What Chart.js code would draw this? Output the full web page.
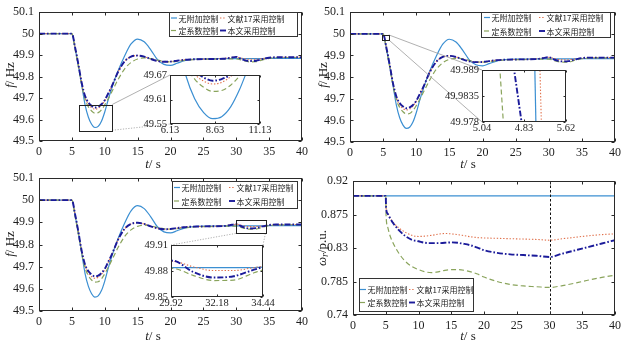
<!DOCTYPE html>
<html>
<head>
<meta charset="utf-8">
<script src="https://cdn.jsdelivr.net/npm/chart.js@4.4.1/dist/chart.umd.min.js"></script>
<style>
  html, body { margin: 0; padding: 0; background: #fff; }
  #wrap { position: relative; width: 626px; height: 345px; overflow: hidden; }
  #wrap canvas { position: absolute; left: 0; top: 0; }
</style>
</head>
<body>
<div id="wrap"></div>
<script>
// ── DATA ────────────────────────────────────────────────────────────────────
const seriesNames = ['无附加控制', '文献17采用控制', '定系数控制', '本文采用控制'];

// frequency response, same curves in the three f/Hz panels
const tFreq  = [0, 5, 5.5, 6, 6.5, 7, 7.5, 8, 8.5, 9, 9.5, 10, 10.5, 11, 11.5, 12, 13, 14, 15, 16, 17, 18, 19, 20, 21, 22, 23, 24, 26, 28, 29, 30, 31, 32, 33, 34, 35, 36, 38, 40];
const fNone  = [50, 50, 49.93, 49.85, 49.76, 49.67, 49.612, 49.578, 49.563, 49.568, 49.592, 49.635, 49.69, 49.74, 49.785, 49.825, 49.895, 49.952, 49.975, 49.962, 49.925, 49.88, 49.857, 49.852, 49.862, 49.873, 49.879, 49.882, 49.883, 49.884, 49.884, 49.884, 49.884, 49.884, 49.884, 49.884, 49.885, 49.885, 49.885, 49.885];
const fRef17 = [50, 50, 49.935, 49.855, 49.77, 49.705, 49.672, 49.655, 49.648, 49.652, 49.666, 49.688, 49.718, 49.75, 49.785, 49.82, 49.87, 49.893, 49.898, 49.893, 49.882, 49.873, 49.869, 49.87, 49.874, 49.878, 49.88, 49.881, 49.882, 49.884, 49.888, 49.891, 49.885, 49.8805, 49.8805, 49.884, 49.887, 49.889, 49.89, 49.89];
const fConst = [50, 50, 49.925, 49.845, 49.76, 49.695, 49.66, 49.64, 49.63, 49.632, 49.645, 49.668, 49.695, 49.725, 49.755, 49.785, 49.835, 49.866, 49.882, 49.887, 49.884, 49.877, 49.871, 49.869, 49.871, 49.875, 49.878, 49.88, 49.881, 49.882, 49.883, 49.883, 49.875, 49.869, 49.8695, 49.878, 49.885, 49.888, 49.889, 49.889];
const fOurs  = [50, 50, 49.935, 49.855, 49.77, 49.71, 49.68, 49.664, 49.656, 49.66, 49.671, 49.69, 49.72, 49.75, 49.785, 49.82, 49.87, 49.893, 49.898, 49.893, 49.882, 49.873, 49.869, 49.87, 49.874, 49.878, 49.88, 49.881, 49.882, 49.883, 49.887, 49.892, 49.879, 49.8725, 49.874, 49.8815, 49.888, 49.89, 49.89, 49.89];

// close-up of the first drop (5.04–5.62 s)
const zoomF      = [49.995, 49.972];
const zoomTNone  = [5.401, 5.416];
const zoomTRef17 = [5.435, 5.455];
const zoomTConst = [5.151, 5.2];
const zoomTOurs  = [5.234, 5.341];

// rotor speed
const tOmega = [0, 5, 5.05, 5.3, 5.6, 6, 7, 8, 9, 10, 11, 12, 13, 14, 15, 16, 17, 18, 19, 20, 22, 24, 26, 28, 30, 32, 34, 36, 38, 40];
const wNone  = [0.9, 0.9, 0.9, 0.9, 0.9, 0.9, 0.9, 0.9, 0.9, 0.9, 0.9, 0.9, 0.9, 0.9, 0.9, 0.9, 0.9, 0.9, 0.9, 0.9, 0.9, 0.9, 0.9, 0.9, 0.9, 0.9, 0.9, 0.9, 0.9, 0.9];
const wRef17 = [0.9, 0.9, 0.884, 0.876, 0.871, 0.866, 0.857, 0.851, 0.847, 0.8455, 0.846, 0.847, 0.8485, 0.8495, 0.849, 0.848, 0.8465, 0.845, 0.844, 0.8435, 0.843, 0.8425, 0.842, 0.8415, 0.8405, 0.8425, 0.8445, 0.8465, 0.848, 0.849];
const wConst = [0.9, 0.9, 0.874, 0.858, 0.848, 0.839, 0.823, 0.812, 0.805, 0.801, 0.798, 0.797, 0.798, 0.8, 0.801, 0.801, 0.8, 0.798, 0.795, 0.791, 0.785, 0.781, 0.779, 0.778, 0.777, 0.7795, 0.783, 0.787, 0.7905, 0.7935];
const wOurs  = [0.9, 0.9, 0.884, 0.876, 0.871, 0.865, 0.854, 0.846, 0.841, 0.839, 0.837, 0.8365, 0.8365, 0.837, 0.8375, 0.837, 0.8355, 0.8335, 0.8305, 0.827, 0.8235, 0.8215, 0.8205, 0.8195, 0.818, 0.8225, 0.827, 0.8315, 0.836, 0.8405];
const omegaMark = 30;

// ticks
const timeTicks  = [0, 5, 10, 15, 20, 25, 30, 35, 40];
const timeLabels = ['0', '5', '10', '15', '20', '25', '30', '35', '40'];
const freqTicks  = [49.5, 49.6, 49.7, 49.8, 49.9, 50, 50.1];
const freqLabels = ['49.5', '49.6', '49.7', '49.8', '49.9', '50', '50.1'];
const omegaTicks  = [0.74, 0.785, 0.83, 0.875, 0.92];
const omegaLabels = ['0.74', '0.785', '0.83', '0.875', '0.92'];
const in1X = [6.13, 8.63, 11.13],   in1XLabels = ['6.13', '8.63', '11.13'];
const in1Y = [49.55, 49.61, 49.67], in1YLabels = ['49.55', '49.61', '49.67'];
const in2X = [5.04, 5.33, 5.62],    in2XLabels = ['5.04', '4.83', '5.62'];
const in2Y = [49.978, 49.9835, 49.989], in2YLabels = ['49.978', '49.9835', '49.989'];
const in3X = [29.92, 32.18, 34.44], in3XLabels = ['29.92', '32.18', '34.44'];
const in3Y = [49.85, 49.88, 49.91], in3YLabels = ['49.85', '49.88', '49.91'];

// ── STYLE / LAYOUT ──────────────────────────────────────────────────────────
const W = 626, H = 345;
const styles = [
  { color: '#3b8fd2', width: 1.2, dash: [], order: 3 },
  { color: '#e0714c', width: 1.1, dash: [1.4, 1.8], order: 2 },
  { color: '#8aa45c', width: 1.2, dash: [5, 3], order: 1 },
  { color: '#1b1b9a', width: 1.9, dash: [6, 2, 1.6, 2], order: 0 }
];
const serif = '"Liberation Serif", "DejaVu Serif", serif';

const area1 = { l: 39, t: 9, r: 302, b: 141 };
const area2 = { l: 350, t: 9, r: 615, b: 142 };
const area3 = { l: 39, t: 178, r: 302, b: 311 };
const area4 = { l: 353, t: 181, r: 615, b: 315 };
const inset1 = { l: 170, t: 75, r: 260, b: 124 };
const inset2 = { l: 482, t: 70, r: 566, b: 122 };
const inset3 = { l: 171, t: 245, r: 263, b: 297 };

const figCfg = {};

function drawRuns(ctx, runs, cx, cy, rotate) {
  const fontOf = r => `${r.it ? 'italic ' : ''}${r.sz || 13}px ${serif}`;
  ctx.save();
  ctx.translate(cx, cy);
  if (rotate) ctx.rotate(-Math.PI / 2);
  ctx.textBaseline = 'alphabetic';
  ctx.textAlign = 'left';
  ctx.fillStyle = '#222';
  let w = 0;
  runs.forEach(r => { ctx.font = fontOf(r); w += ctx.measureText(r.t).width; });
  let x = -w / 2;
  runs.forEach(r => {
    ctx.font = fontOf(r);
    ctx.fillText(r.t, x, 4.5 + (r.dy || 0));
    x += ctx.measureText(r.t).width;
  });
  ctx.restore();
}

function drawLegend(ctx, lg) {
  ctx.save();
  ctx.fillStyle = '#fff';
  ctx.fillRect(lg.x, lg.y, lg.w, lg.h);
  ctx.strokeStyle = '#333';
  ctx.lineWidth = 1;
  ctx.strokeRect(lg.x + 0.5, lg.y + 0.5, lg.w, lg.h);
  ctx.font = '8px "Noto Sans CJK SC"';
  ctx.textBaseline = 'middle';
  ctx.textAlign = 'left';
  seriesNames.forEach((name, i) => {
    const x = lg.cols[i % 2], y = lg.rows[Math.floor(i / 2)], s = styles[i];
    ctx.strokeStyle = s.color;
    ctx.lineWidth = s.width;
    ctx.setLineDash(s.dash);
    ctx.beginPath(); ctx.moveTo(x, y); ctx.lineTo(x + 6, y); ctx.stroke();
    ctx.setLineDash([]);
    ctx.fillStyle = '#222';
    ctx.fillText(name, x + 7.5, y + 0.5);
  });
  ctx.restore();
}

const figPlugin = {
  id: 'fig',
  beforeDraw(chart) {
    const c = figCfg[chart.canvas.id];
    if (!c.inset) return;
    const a = chart.chartArea, ctx = chart.ctx;
    ctx.save();
    ctx.fillStyle = '#fff';
    ctx.fillRect(a.left, a.top, a.right - a.left, a.bottom - a.top);
    ctx.restore();
  },
  afterDraw(chart) {
    const c = figCfg[chart.canvas.id];
    const ctx = chart.ctx, a = chart.chartArea, xs = chart.scales.x, ys = chart.scales.y;
    ctx.save();

    if (c.vline != null) {
      const px = Math.round(xs.getPixelForValue(c.vline)) + 0.5;
      ctx.strokeStyle = '#111'; ctx.lineWidth = 1; ctx.setLineDash([2.5, 2]);
      ctx.beginPath(); ctx.moveTo(px, a.top); ctx.lineTo(px, a.bottom); ctx.stroke();
      ctx.setLineDash([]);
    }

    // box + inward ticks
    const L = Math.round(a.left) + 0.5, R = Math.round(a.right) - 0.5;
    const T = Math.round(a.top) + 0.5, B = Math.round(a.bottom) - 0.5;
    ctx.strokeStyle = '#2a2a2a'; ctx.lineWidth = 1;
    ctx.strokeRect(L, T, R - L, B - T);
    const tl = c.tickLen;
    ctx.beginPath();
    xs.ticks.forEach(t => {
      const px = Math.round(xs.getPixelForValue(t.value)) + 0.5;
      ctx.moveTo(px, B); ctx.lineTo(px, B - tl);
      ctx.moveTo(px, T); ctx.lineTo(px, T + tl);
    });
    ys.ticks.forEach(t => {
      const py = Math.round(ys.getPixelForValue(t.value)) + 0.5;
      ctx.moveTo(L, py); ctx.lineTo(L + tl, py);
      ctx.moveTo(R, py); ctx.lineTo(R - tl, py);
    });
    ctx.stroke();

    // zoom box with leader lines to its inset
    if (c.zoom) {
      const z = c.zoom;
      let x0 = xs.getPixelForValue(z.x0), x1 = xs.getPixelForValue(z.x1);
      let y0 = ys.getPixelForValue(z.y1), y1 = ys.getPixelForValue(z.y0);
      if (x1 - x0 < z.minW) { const m = (x0 + x1) / 2; x0 = m - z.minW / 2; x1 = m + z.minW / 2; }
      if (y1 - y0 < z.minH) { const m = (y0 + y1) / 2; y0 = m - z.minH / 2; y1 = m + z.minH / 2; }
      const rc = { tl: [x0, y0], tr: [x1, y0], bl: [x0, y1], br: [x1, y1] };
      const ta = z.target;
      const tc = { tl: [ta.l, ta.t], tr: [ta.r, ta.t], bl: [ta.l, ta.b], br: [ta.r, ta.b] };
      ctx.strokeStyle = '#9c9c9c'; ctx.lineWidth = 0.8;
      z.links.forEach(([from, to, dotted]) => {
        ctx.setLineDash(dotted ? [1.2, 1.5] : []);
        ctx.beginPath(); ctx.moveTo(rc[from][0], rc[from][1]); ctx.lineTo(tc[to][0], tc[to][1]); ctx.stroke();
      });
      ctx.setLineDash([]);
      ctx.strokeStyle = '#222'; ctx.lineWidth = 1;
      ctx.strokeRect(Math.round(x0) + 0.5, Math.round(y0) + 0.5, Math.round(x1 - x0), Math.round(y1 - y0));
    }

    if (c.legend) drawLegend(ctx, c.legend);
    if (c.yTitle) drawRuns(ctx, c.yTitle.runs, c.yTitle.x, c.yTitle.y, true);
    if (c.xTitle) drawRuns(ctx, c.xTitle.runs, c.xTitle.x, c.xTitle.y, false);
    ctx.restore();
  }
};

function linAxis(min, max, ticks, labels, fontSize, pad, fit) {
  return {
    type: 'linear', min, max,
    grid: { display: false, drawTicks: false },
    border: { display: false },
    afterBuildTicks: s => { s.ticks = ticks.map(v => ({ value: v })); },
    afterFit: fit,
    ticks: {
      autoSkip: false, maxRotation: 0, padding: pad, color: '#1e1e1e',
      font: { family: serif, size: fontSize },
      callback: (v, i) => labels[i]
    }
  };
}

function seriesSets(t, series) {
  return series.map((vals, i) => ({
    data: vals.map((v, k) => ({ x: t[k], y: v })),
    borderColor: styles[i].color,
    borderWidth: styles[i].width,
    borderDash: styles[i].dash,
    cubicInterpolationMode: 'monotone',
    pointRadius: 0,
    fill: false,
    order: styles[i].order
  }));
}

function zoomSets(tLists, fVals) {
  return tLists.map((ts, i) => ({
    data: ts.map((x, k) => ({ x, y: fVals[k] })),
    borderColor: styles[i].color,
    borderWidth: styles[i].width,
    borderDash: styles[i].dash,
    tension: 0,
    pointRadius: 0,
    fill: false,
    order: styles[i].order
  }));
}

const wrap = document.getElementById('wrap');

function makeChart(id, area, xAx, yAx, datasets, cfg) {
  const cv = document.createElement('canvas');
  cv.id = id; cv.width = W; cv.height = H;
  cv.style.width = W + 'px'; cv.style.height = H + 'px';
  wrap.appendChild(cv);
  figCfg[id] = cfg;
  const fs = cfg.inset ? 10.5 : 12;
  const xPad = cfg.inset ? 0 : 4, yPad = cfg.inset ? 3 : 5;
  return new Chart(cv.getContext('2d'), {
    type: 'line',
    data: { datasets },
    options: {
      responsive: false, animation: false, devicePixelRatio: 1,
      layout: { padding: { top: area.t, right: W - area.r, left: 0, bottom: 0 } },
      plugins: { legend: { display: false }, tooltip: { enabled: false } },
      elements: { point: { radius: 0 } },
      scales: {
        x: linAxis(xAx[0], xAx[1], xAx[2], xAx[3], fs, xPad, s => { s.height = H - area.b; }),
        y: linAxis(yAx[0], yAx[1], yAx[2], yAx[3], fs, yPad, s => { s.width = area.l; })
      }
    },
    plugins: [figPlugin]
  });
}

const freqSeries = [fNone, fRef17, fConst, fOurs];
const fTitle = [{ t: 'f', it: true }, { t: '/ Hz' }];
const tTitle = [{ t: 't', it: true }, { t: '/ s' }];
const timeAx = [0, 40, timeTicks, timeLabels];
const freqAx = [49.5, 50.1, freqTicks, freqLabels];

// ── PANEL 1 : trough close-up ───────────────────────────────────────────────
makeChart('p1', area1, timeAx, freqAx, seriesSets(tFreq, freqSeries), {
  tickLen: 3,
  legend: { x: 169, y: 12, w: 128, h: 24, cols: [171, 220], rows: [18, 30.5] },
  yTitle: { runs: fTitle, x: 9, y: 75 },
  xTitle: { runs: tTitle, x: 153, y: 163 },
  zoom: { x0: in1X[0], x1: in1X[2], y0: in1Y[0], y1: in1Y[2], minW: 4, minH: 4, target: inset1,
          links: [['tr', 'tl', false], ['br', 'bl', true]] }
});
makeChart('p1i', inset1, [in1X[0], in1X[2], in1X, in1XLabels], [in1Y[0], in1Y[2], in1Y, in1YLabels],
  seriesSets(tFreq, freqSeries), { inset: true, tickLen: 2 });

// ── PANEL 2 : first-drop close-up ───────────────────────────────────────────
makeChart('p2', area2, timeAx, freqAx, seriesSets(tFreq, freqSeries), {
  tickLen: 3,
  legend: { x: 481, y: 12, w: 129, h: 25, cols: [484, 539], rows: [17.5, 31] },
  yTitle: { runs: fTitle, x: 322, y: 75 },
  xTitle: { runs: tTitle, x: 468, y: 163 },
  zoom: { x0: in2X[0], x1: in2X[2], y0: in2Y[0], y1: in2Y[2], minW: 7, minH: 5, target: inset2,
          links: [['tr', 'tl', false], ['br', 'bl', false]] }
});
makeChart('p2i', inset2, [in2X[0], in2X[2], in2X, in2XLabels], [in2Y[0], in2Y[2], in2Y, in2YLabels],
  zoomSets([zoomTNone, zoomTRef17, zoomTConst, zoomTOurs], zoomF), { inset: true, tickLen: 2 });

// ── PANEL 3 : late dip close-up ─────────────────────────────────────────────
makeChart('p3', area3, timeAx, freqAx, seriesSets(tFreq, freqSeries), {
  tickLen: 3,
  legend: { x: 172, y: 181, w: 125, h: 27, cols: [174, 229], rows: [187.5, 201] },
  yTitle: { runs: fTitle, x: 9, y: 244 },
  xTitle: { runs: tTitle, x: 153, y: 335 },
  zoom: { x0: in3X[0], x1: in3X[2], y0: in3Y[0], y1: in3Y[2], minW: 4, minH: 4, target: inset3,
          links: [['bl', 'tl', true], ['br', 'tr', true]] }
});
makeChart('p3i', inset3, [in3X[0], in3X[2], in3X, in3XLabels], [in3Y[0], in3Y[2], in3Y, in3YLabels],
  seriesSets(tFreq, freqSeries), { inset: true, tickLen: 2 });

// ── PANEL 4 : rotor speed ───────────────────────────────────────────────────
makeChart('p4', area4, timeAx, [0.74, 0.92, omegaTicks, omegaLabels],
  seriesSets(tOmega, [wNone, wRef17, wConst, wOurs]), {
  tickLen: 3,
  vline: omegaMark,
  legend: { x: 359, y: 278, w: 114, h: 33, cols: [360, 409], rows: [289.5, 302.5] },
  yTitle: { runs: [{ t: 'ω', it: true }, { t: 'r', it: true, sz: 10, dy: 2 }, { t: '/p.u.' }], x: 321, y: 248 },
  xTitle: { runs: tTitle, x: 468, y: 335 }
});
</script>
</body>
</html>
